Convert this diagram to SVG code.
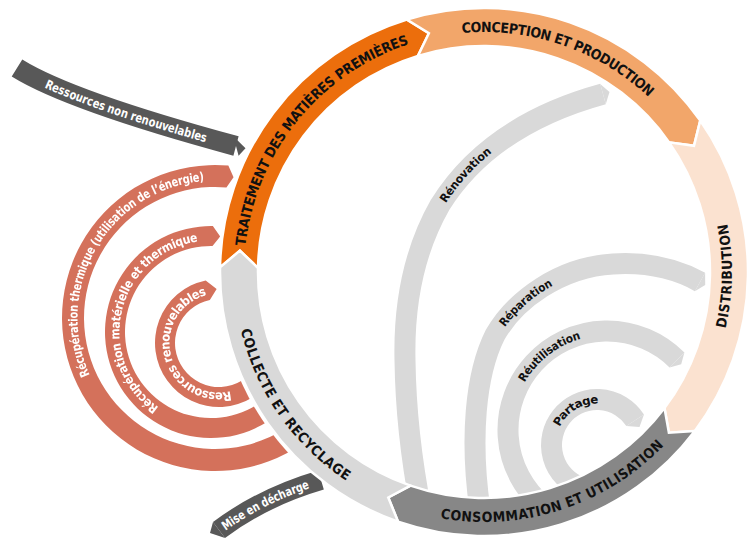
<svg xmlns="http://www.w3.org/2000/svg" width="750" height="541" viewBox="0 0 750 541">
<style>
.seg{stroke:#fff;stroke-width:2.5;stroke-linejoin:miter}
.ring{font-family:"DejaVu Sans Condensed","DejaVu Sans",sans-serif;font-stretch:condensed;font-weight:bold;font-size:14px;fill:#111}
.lbl{font-family:"DejaVu Sans Condensed","DejaVu Sans",sans-serif;font-stretch:condensed;font-weight:bold;font-size:11.5px;fill:#111}
.wl{font-family:"DejaVu Sans Condensed","DejaVu Sans",sans-serif;font-stretch:condensed;font-weight:bold;font-size:12.5px;fill:#fff}
.loop{fill:none;stroke:#d9d9d9;stroke-width:21}
.red{fill:#d4715b}
.dark{fill:none;stroke:#585858;stroke-width:20}
</style>
<defs>
<mask id="outsideRing"><rect width="750" height="541" fill="#fff"/><circle cx="484" cy="272" r="266.5" fill="#000"/></mask>
<clipPath id="insideRing"><circle cx="484" cy="272" r="250"/></clipPath>
<path id="tpTrait" d="M239.04,276.28 A245,245 0 0 1 437.25,31.51"/>
<path id="tpConc" d="M396.2,43.3 A245,245 0 0 1 694.0,145.8"/>
<path id="tpDist" d="M667.4,431.4 A243,243 0 0 0 672.8,119.1"/>
<path id="tpCons" d="M392.2,499.2 A245,245 0 0 0 691.8,401.8"/>
<path id="tpColl" d="M239.9,250.6 A245,245 0 0 0 420.6,508.7"/>
<path id="tpRed1" d="M106.22,409.28 A142,142 0 0 1 242.10,178.61"/>
<path id="tpRed2" d="M165.49,416.53 A96,96 0 0 1 208.15,236.04"/>
<path id="tpRed3" d="M237.47,393.74 A54,54 0 1 1 211.48,289.53"/>
<path id="pRenov" d="M425,530 Q406,440 405,360 Q403,270 440,205 Q490,125 603,94"/>
<path id="pRepar" d="M480,510 C470,440 475,375 495,335 C515,300 560,267 613,264 C645,262 675,268 700,282"/>
<path id="pReut" d="M543.36,505.84 A99,99 0 1 1 677.0,360.0"/>
<path id="pPart" d="M581.44,487.76 A45.5,45.5 0 1 1 635.16,420.22"/>
<path id="pNonRen" d="M17,68 Q70,101 236,146"/>
<path id="pMise" d="M219,530 Q263,497 321,480"/>
</defs>

<g id="connectors">
  <g id="recup-thermique" mask="url(#outsideRing)">
    <path class="red" d="M228.34,165.58 A153,153 0 1 0 332.20,416.35 L315.35,402.21 A131,131 0 1 1 226.42,187.50 L233.54,177.22 Z"/>
    <text class="wl"><textPath href="#tpRed1" startOffset="50%" text-anchor="middle" dominant-baseline="central" textLength="272" lengthAdjust="spacingAndGlyphs">Récupération thermique (utilisation de l’énergie)</textPath></text>
  </g>
  <g id="recup-materielle" mask="url(#outsideRing)">
    <path class="red" d="M212.85,226.02 A106,106 0 1 0 292.20,400.14 L276.88,387.28 A86,86 0 1 1 212.50,246.01 L220.20,236.44 Z"/>
    <text class="wl"><textPath href="#tpRed2" startOffset="50%" text-anchor="middle" dominant-baseline="central" textLength="229" lengthAdjust="spacingAndGlyphs">Récupération matérielle et thermique</textPath></text>
  </g>
  <g id="ressources-renouvelables" mask="url(#outsideRing)">
    <path class="red" d="M205.69,280.40 A64,64 0 1 0 274.43,375 L257.11,365 A44,44 0 1 1 209.85,299.96 L216.64,289.05 Z"/>
    <text class="wl"><textPath href="#tpRed3" startOffset="50%" text-anchor="middle" dominant-baseline="central" textLength="168" lengthAdjust="spacingAndGlyphs">Ressources renouvelables</textPath></text>
  </g>
  <g id="non-renouvelables">
    <use href="#pNonRen" class="dark"/>
    <polygon points="233.4,136.3 245.5,148.3 238.6,155.7" fill="#585858"/>
    <text class="wl"><textPath href="#pNonRen" startOffset="118" text-anchor="middle" dominant-baseline="central" textLength="170" lengthAdjust="spacingAndGlyphs">Ressources non renouvelables</textPath></text>
  </g>
  <g id="mise-en-decharge">
    <use href="#pMise" class="dark"/>
    <polygon points="213,522 210,533 225,538" fill="#585858"/>
    <text class="wl"><textPath href="#pMise" startOffset="53" text-anchor="middle" dominant-baseline="central" textLength="96" lengthAdjust="spacingAndGlyphs">Mise en décharge</textPath></text>
  </g>
  <g id="loops" clip-path="url(#insideRing)">
    <g id="renovation">
      <use href="#pRenov" class="loop"/>
      <polygon points="600.2,83.9 609.5,92 605.8,104.1" fill="#d9d9d9"/>
      <text class="lbl"><textPath href="#pRenov" startOffset="372" text-anchor="middle" dominant-baseline="central" textLength="70" lengthAdjust="spacingAndGlyphs">Rénovation</textPath></text>
    </g>
    <g id="reparation">
      <use href="#pRepar" class="loop"/>
      <polygon points="705.1,272.8 705.2,284.9 694.9,291.2" fill="#d9d9d9"/>
      <text class="lbl"><textPath href="#pRepar" startOffset="223" text-anchor="middle" dominant-baseline="central" textLength="66" lengthAdjust="spacingAndGlyphs">Réparation</textPath></text>
    </g>
    <g id="reutilisation">
      <use href="#pReut" class="loop"/>
      <polygon points="684.4,352.6 681.2,364.2 669.6,367.4" fill="#d9d9d9"/>
      <text class="lbl"><textPath href="#pReut" startOffset="176" text-anchor="middle" dominant-baseline="central" textLength="76" lengthAdjust="spacingAndGlyphs">Réutilisation</textPath></text>
    </g>
    <g id="partage">
      <use href="#pPart" class="loop"/>
      <polygon points="643.97,414.5 639.5,426.9 626.35,425.94" fill="#d9d9d9"/>
      <text class="lbl"><textPath href="#pPart" startOffset="102" text-anchor="middle" dominant-baseline="central" textLength="52" lengthAdjust="spacingAndGlyphs">Partage</textPath></text>
    </g>
  </g>
</g>

<g id="traitement">
  <path class="seg" fill="#ec6e0c" d="M220.04,267.39 A264,264 0 0 1 406.81,19.54 L428.89,33.28 L417.92,55.88 A226,226 0 0 0 258.03,268.06 L239.93,250.65 Z"/>
  <text class="ring"><textPath href="#tpTrait" startOffset="50%" text-anchor="middle" dominant-baseline="central" textLength="280" lengthAdjust="spacing">TRAITEMENT DES MATIÈRES PREMIÈRES</textPath></text>
</g>
<g id="conception">
  <path class="seg" fill="#f2a66a" d="M406.81,19.54 A264,264 0 0 1 700.26,120.57 L694.01,145.82 L669.13,142.37 A226,226 0 0 0 417.92,55.88 L428.89,33.28 Z"/>
  <text class="ring"><textPath href="#tpConc" startOffset="50%" text-anchor="middle" dominant-baseline="central" textLength="207" lengthAdjust="spacing">CONCEPTION ET PRODUCTION</textPath></text>
</g>
<g id="distribution">
  <path class="seg" fill="#fbe2d0" d="M700.26,120.57 A264,264 0 0 1 694.84,430.88 L668.90,432.73 L664.49,408.01 A226,226 0 0 0 669.13,142.37 L694.01,145.82 Z"/>
  <text class="ring"><textPath href="#tpDist" startOffset="50%" text-anchor="middle" dominant-baseline="central" textLength="104" lengthAdjust="spacing">DISTRIBUTION</textPath></text>
</g>
<g id="consommation">
  <path class="seg" fill="#878787" d="M694.84,430.88 A264,264 0 0 1 398.05,521.62 L388.27,497.52 L410.42,485.69 A226,226 0 0 0 664.49,408.01 L668.90,432.73 Z"/>
  <text class="ring"><textPath href="#tpCons" startOffset="50%" text-anchor="middle" dominant-baseline="central" textLength="240" lengthAdjust="spacing">CONSOMMATION ET UTILISATION</textPath></text>
</g>
<g id="collecte">
  <path class="seg" fill="#d9d9d9" d="M398.05,521.62 A264,264 0 0 1 220.04,267.39 L239.93,250.65 L258.03,268.06 A226,226 0 0 0 410.42,485.69 L388.27,497.52 Z"/>
  <text class="ring"><textPath href="#tpColl" startOffset="50%" text-anchor="middle" dominant-baseline="central" textLength="185" lengthAdjust="spacing">COLLECTE ET RECYCLAGE</textPath></text>
</g>
</svg>
